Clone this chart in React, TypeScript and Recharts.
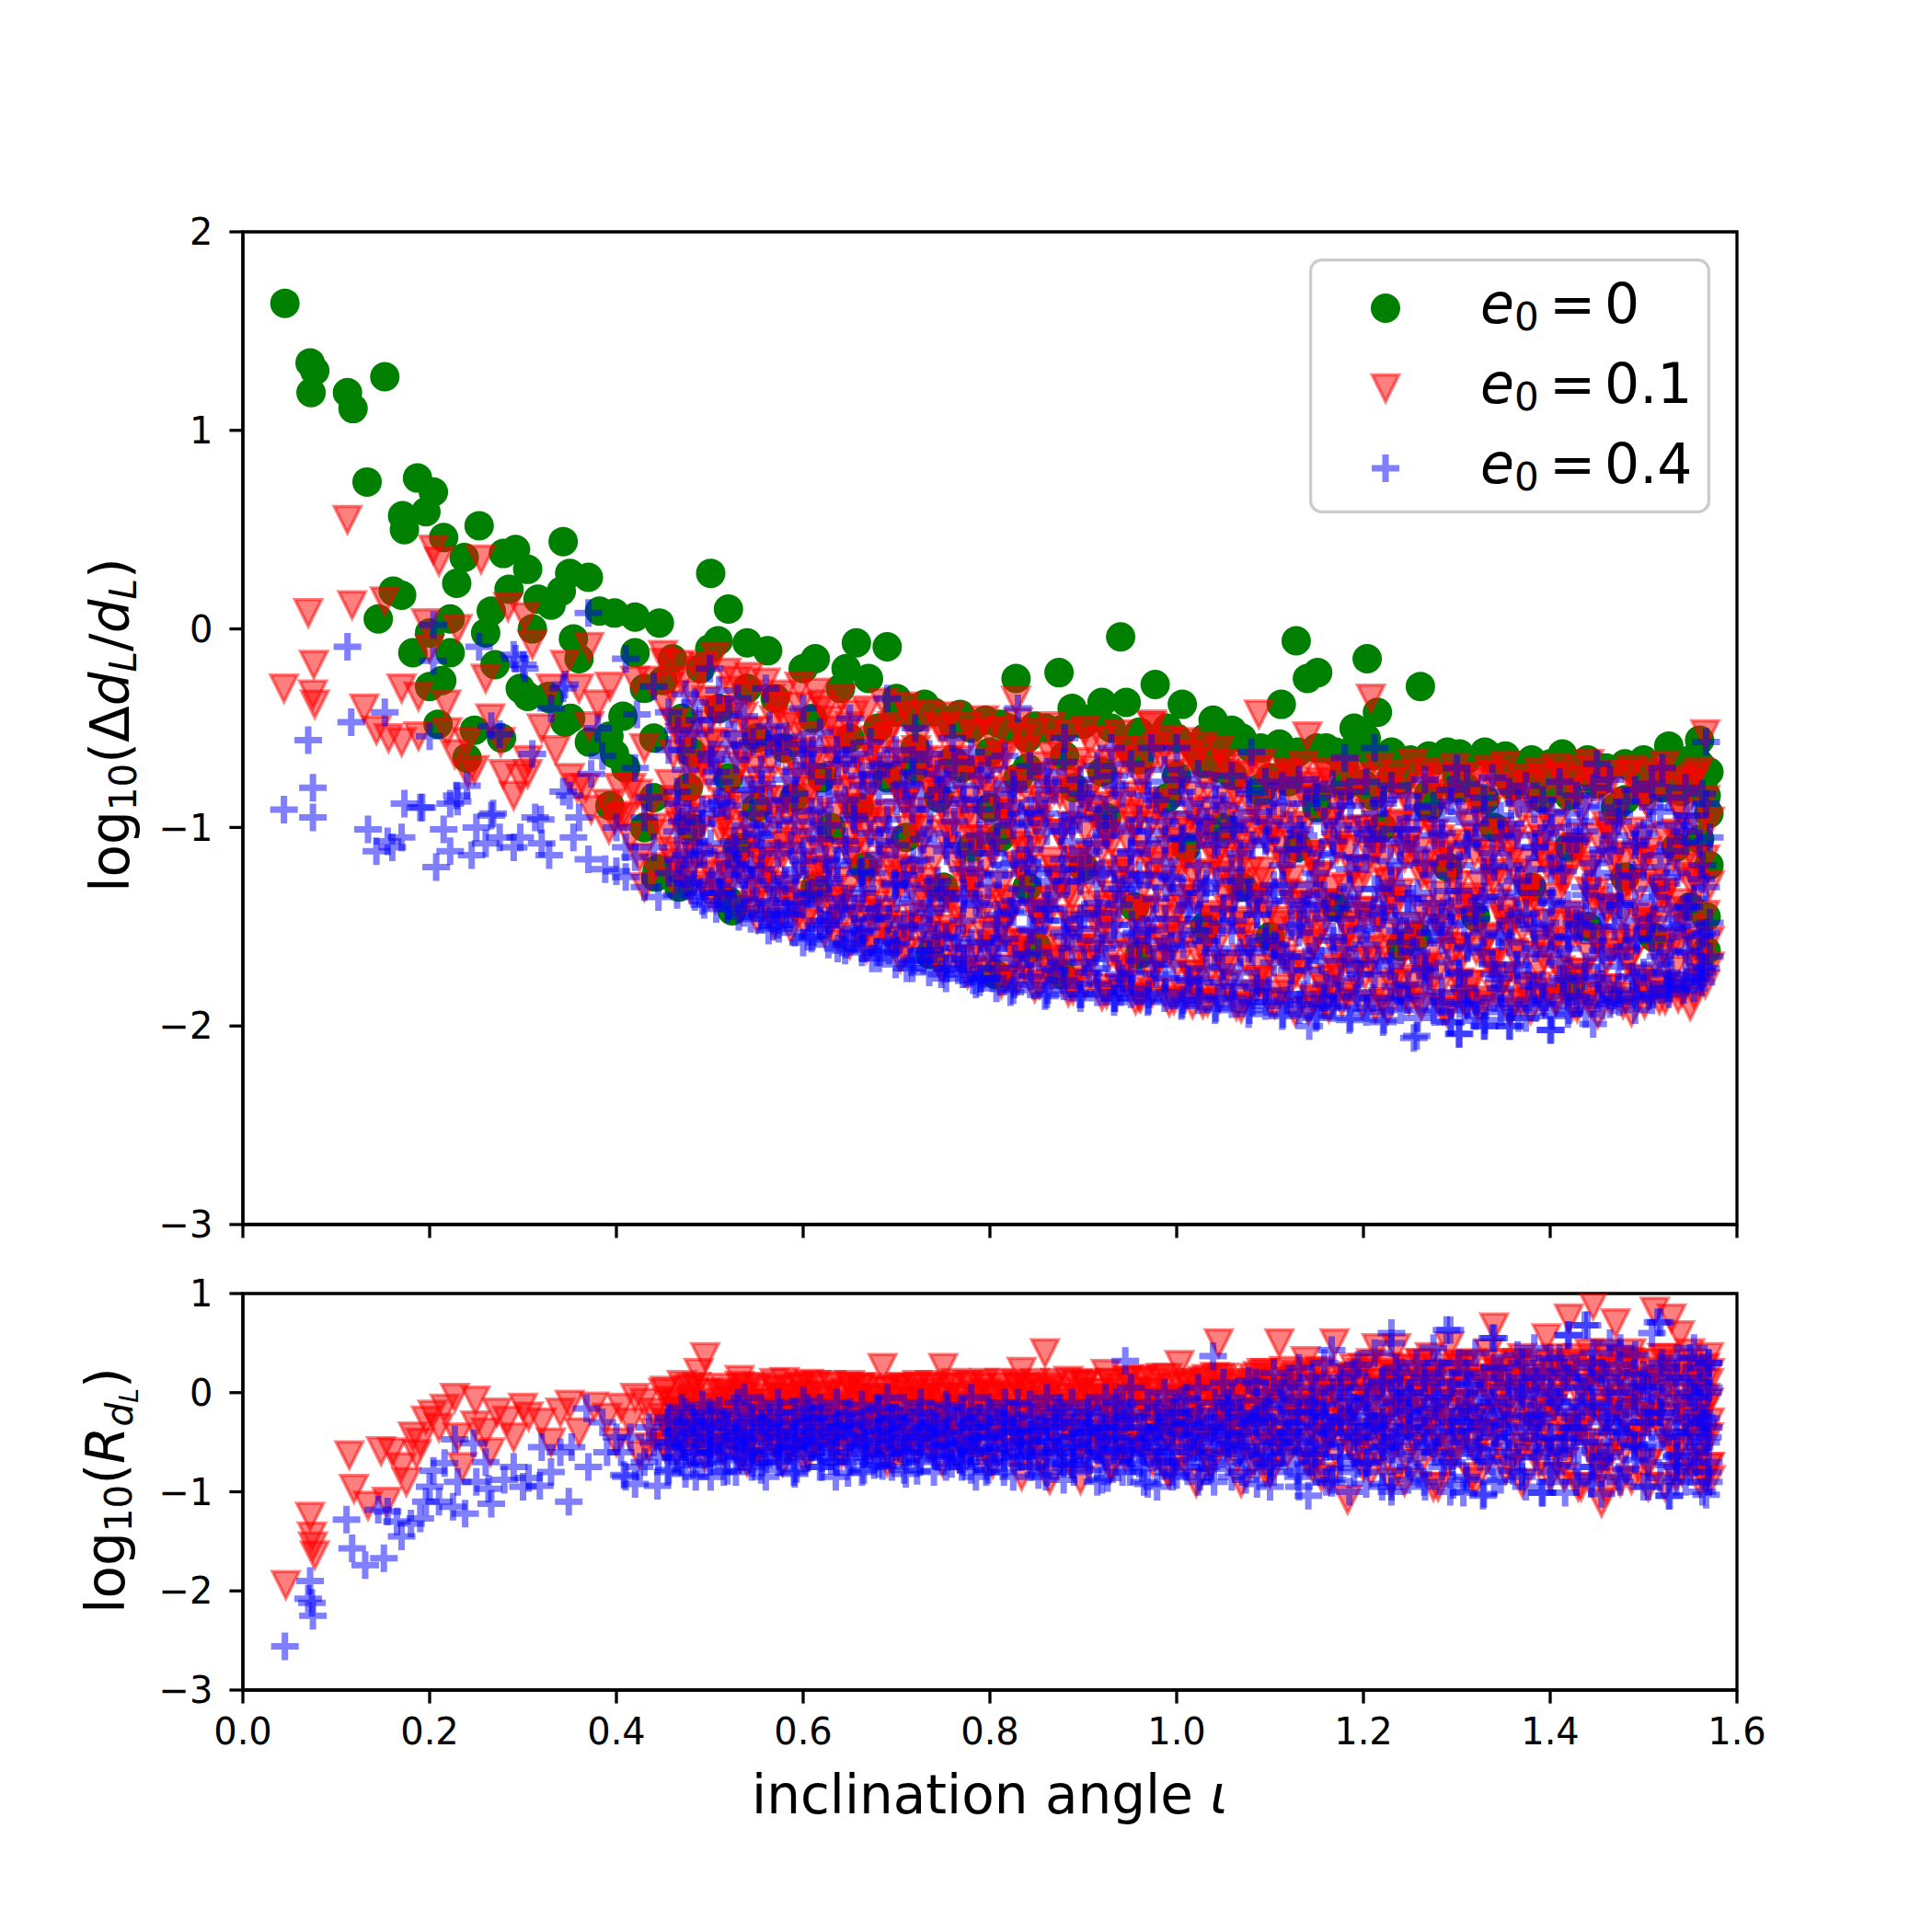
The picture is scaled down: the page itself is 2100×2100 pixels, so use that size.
import React from 'react';
import { ScatterChart, Scatter, XAxis, YAxis, ReferenceArea, Legend } from 'recharts';

// each row: [inclination, one or more log10 values read at that inclination]
type Row = number[];

const xTicks = [0, 0.2, 0.4, 0.6, 0.8, 1.0, 1.2, 1.4, 1.6];
const topYTicks = [-3, -2, -1, 0, 1, 2];
const bottomYTicks = [-3, -2, -1, 0, 1];
const seriesNames = ['e0 = 0', 'e0 = 0.1', 'e0 = 0.4'];
const legendValues = ['0', '0.1', '0.4'];

// upper panel, e0 = 0
const topCircles: Row[] = [
  [0.045, 1.64], [0.072, 1.34], [0.077, 1.3], [0.073, 1.19], [0.112, 1.19], [0.118, 1.11], [0.152, 1.27],
  [0.133, 0.74], [0.187, 0.76], [0.204, 0.69], [0.171, 0.57], [0.173, 0.5], [0.196, 0.59], [0.215, 0.46],
  [0.253, 0.52], [0.237, 0.36], [0.229, 0.23], [0.266, 0.09], [0.279, 0.38], [0.292, 0.4], [0.305, 0.3],
  [0.343, 0.44], [0.35, 0.28], [0.37, 0.26], [0.341, 0.19], [0.316, 0.15], [0.161, 0.19], [0.145, 0.05],
  [0.17, 0.17], [0.222, 0.05], [0.2, -0.02], [0.182, -0.12], [0.222, -0.12], [0.213, -0.26], [0.2, -0.29],
  [0.27, -0.18], [0.297, -0.3], [0.327, -0.34], [0.354, -0.05], [0.382, 0.09], [0.398, 0.08], [0.42, 0.06],
  [0.446, 0.03], [0.345, -0.47], [0.407, -0.44], [0.398, -0.63], [0.371, -0.57], [0.45, -0.26], [0.248, -0.51],
  [0.24, -0.65], [0.209, -0.48], [0.393, -0.89], [0.477, -0.8], [0.392, -0.54], [0.444, -1.21], [0.467, -1.3],
  [0.351, -0.45], [0.277, -0.55], [0.305, -0.34], [0.328, -0.35], [0.285, 0.2], [0.31, 0.0], [0.36, -0.15],
  [0.42, -0.12], [0.43, -0.3, -1.0], [0.41, -0.7], [0.44, -0.55, -0.85], [0.26, -0.02], [0.33, 0.12],
  [0.46, -0.15], [0.47, -0.45], [0.48, -0.62, -1.0], [0.49, -0.2], [0.5, -0.1], [0.501, 0.28], [0.52, 0.1, -0.75, -1.37],
  [0.509, -0.06], [0.51, -0.4], [0.53, -1.1], [0.524, -1.42], [0.54, -0.07, -0.3], [0.55, -0.55, -0.9], [0.442, -1.25],
  [0.562, -0.11], [0.57, -0.35], [0.58, -0.6], [0.59, -0.85], [0.6, -0.2], [0.61, -0.45], [0.613, -0.15, -1.3],
  [0.62, -0.75], [0.63, -1.0], [0.64, -0.3], [0.646, -0.2], [0.65, -0.55], [0.657, -0.07], [0.66, -0.9], [0.665, -1.2],
  [0.67, -0.25], [0.68, -0.5], [0.69, -0.09, -0.75], [0.7, -0.35, -0.42], [0.71, -1.05], [0.715, -0.4], [0.72, -0.45, -0.6, -0.7],
  [0.73, -0.38], [0.736, -1.64], [0.74, -0.42], [0.745, -0.85], [0.75, -1.3], [0.76, -0.48, -0.66],
  [0.768, -0.43], [0.77, -0.7], [0.78, -0.5, -1.1], [0.795, -0.46], [0.8, -0.62, -0.9], [0.806, -1.74], [0.811, -0.48, -1.05],
  [0.82, -0.5], [0.828, -0.25], [0.83, -0.75], [0.84, -0.55, -0.7, -1.3], [0.848, -0.49], [0.85, -1.6], [0.86, -0.5],
  [0.874, -0.22], [0.877, -1.74], [0.88, -0.5, -0.64], [0.888, -0.4], [0.89, -0.8], [0.9, -0.48, -1.2], [0.91, -0.45],
  [0.92, -0.37, -0.72], [0.925, -0.95], [0.93, -0.5], [0.94, -0.04], [0.946, -0.37], [0.95, -0.6], [0.955, -1.4],
  [0.96, -0.52, -0.66, -1.64], [0.977, -0.28], [0.98, -0.55], [0.99, -0.5, -0.85], [1.0, -0.55, -0.74], [1.006, -0.38], [1.01, -1.1],
  [1.02, -0.6], [1.03, -0.55, -0.68, -1.5], [1.039, -0.46], [1.045, -0.7], [1.05, -0.58, -1.0], [1.07, -0.55],
  [1.059, -0.51], [1.06, -0.74], [1.07, -1.3], [1.08, -0.6], [1.09, -0.6, -0.8, -0.82], [1.1, -0.75, -1.55], [1.11, -0.58], [1.112, -0.38],
  [1.12, -0.65, -0.77], [1.128, -0.06], [1.13, -0.62, -1.1], [1.14, -0.25], [1.151, -0.22], [1.15, -0.6, -0.85, -0.9],
  [1.16, -0.6], [1.17, -0.62, -1.4], [1.18, -0.7, -0.79], [1.19, -0.5, -0.6], [1.2, -0.78], [1.203, -0.55], [1.204, -0.15],
  [1.21, -0.64, -0.84], [1.215, -0.42], [1.22, -1.0], [1.23, -0.62, -0.75], [1.24, -0.76, -1.6], [1.25, -0.66, -0.68],
  [1.257, -1.55], [1.261, -0.29], [1.27, -0.64, -0.83, -0.9], [1.28, -0.66], [1.29, -0.62, -1.2], [1.3, -0.74, -0.8], [1.303, -0.63],
  [1.31, -0.66, -0.8], [1.32, -1.45], [1.33, -0.62, -0.86], [1.34, -0.65, -1.0], [1.352, -0.64], [1.355, -0.75], [1.36, -0.68, -0.79],
  [1.376, -0.7], [1.38, -0.66, -1.3], [1.39, -0.73, -0.85], [1.4, -0.68, -0.78], [1.413, -0.63], [1.42, -0.68, -0.84, -1.1],
  [1.422, -1.8], [1.43, -0.72], [1.44, -0.66, -1.5], [1.45, -0.78], [1.455, -0.7], [1.46, -0.7], [1.48, -0.68, -0.86],
  [1.47, -0.9], [1.48, -1.25], [1.488, -0.7], [1.5, -0.66, -0.72, -0.82], [1.51, -0.74, -1.55], [1.52, -0.8], [1.527, -0.59],
  [1.53, -0.7], [1.535, -1.1], [1.54, -0.82], [1.545, -0.75], [1.55, -0.66, -1.4], [1.56, -0.56, -0.68, -1.06],
  [1.565, -0.75], [1.567, -0.84, -1.45, -1.62], [1.57, -0.72, -0.93, -1.19],
];

// upper panel, e0 = 0.1
const topTriangles: Row[] = [
  [0.112, 0.55], [0.07, 0.08], [0.044, -0.3], [0.076, -0.18], [0.075, -0.33], [0.077, -0.38], [0.117, 0.12],
  [0.152, 0.14], [0.204, 0.4], [0.21, 0.34], [0.255, 0.35], [0.13, -0.4], [0.143, -0.51], [0.156, -0.55],
  [0.17, -0.57], [0.17, -0.3], [0.188, -0.34], [0.196, 0.03], [0.218, -0.38], [0.227, -0.63], [0.24, -0.57],
  [0.248, -0.71], [0.279, -0.73], [0.297, -0.75], [0.305, -0.66], [0.276, -0.57], [0.284, 0.11], [0.302, 0.06],
  [0.345, -0.18], [0.371, -0.09], [0.393, -0.29], [0.38, -0.38], [0.371, -0.49], [0.35, -0.75], [0.367, -0.8],
  [0.42, -0.26], [0.437, -0.26], [0.45, -0.13], [0.468, -0.18], [0.416, -0.8], [0.398, -0.96], [0.188, -0.54],
  [0.219, -0.52], [0.241, -0.73], [0.29, -0.84], [0.305, -0.73], [0.335, -0.61], [0.358, -0.8], [0.373, -0.91],
  [0.39, -0.88], [0.403, -0.8], [0.41, -0.94], [0.423, -0.83], [0.392, -1.01], [0.33, -0.3], [0.31, -0.08],
  [0.26, -0.25], [0.23, 0.0], [0.2, -0.1], [0.265, -0.45], [0.32, -0.5], [0.36, -0.3], [0.43, -0.6], [0.44, -1.0],
  [0.405, -0.95], [0.415, -1.05], [0.425, -1.15], [0.435, -0.9], [0.44, -1.2], [0.43, -1.3],
  [0.824, -1.77], [0.828, -0.36], [0.96, -1.85], [0.973, -0.48], [1.017, -1.89], [1.088, -0.43], [1.14, -0.54],
  [1.158, -1.89], [1.31, -1.89],
  [0.452, -0.17, -0.38, -1.03], [0.461, -0.63, -0.86, -1.27], [0.47, -0.26, -1.14, -1.22], [0.479, -0.52, -0.71, -1.31],
  [0.488, -0.21, -0.91, -1.02], [0.497, -0.36, -0.48, -1.19], [0.506, -0.14, -0.57, -0.66, -1.36], [0.515, -0.87, -0.97, -1.16],
  [0.524, -0.31, -0.42, -1.07, -1.26], [0.533, -0.69, -0.89, -1.41], [0.542, -0.24, -0.33, -0.99, -1.21],
  [0.551, -0.51, -0.81, -1.33, -1.46], [0.56, -0.27, -0.76, -0.96, -1.13], [0.569, -0.46, -0.56, -1.29, -1.49],
  [0.578, -0.33, -0.86, -1.04, -1.14], [0.587, -0.63, -0.77, -1.38, -1.51], [0.596, -0.29, -0.39, -0.97, -1.19],
  [0.605, -0.54, -0.99, -1.11, -1.44], [0.614, -0.32, -0.67, -0.76, -1.29], [0.623, -0.41, -1.04, -1.23, -1.53],
  [0.632, -0.56, -0.61, -0.94, -1.41], [0.641, -0.35, -0.82, -1.36, -1.47], [0.65, -0.49, -0.71, -1.04, -1.14, -1.59],
  [0.659, -0.64, -0.91, -1.46], [0.668, -0.41, -0.84, -0.99, -1.23, -1.61], [0.677, -0.56, -0.66, -1.19, -1.39],
  [0.686, -0.37, -0.93, -1.07, -1.51], [0.695, -0.49, -0.74, -1.34, -1.57], [0.704, -0.63, -0.67, -1.13, -1.29, -1.66],
  [0.713, -0.44, -0.84, -1.01, -1.51], [0.722, -0.56, -0.96, -1.22, -1.36], [0.731, -0.43, -0.76, -1.27, -1.63],
  [0.74, -0.66, -0.71, -1.16, -1.46], [0.749, -0.51, -0.89, -1.03, -1.54, -1.71], [0.758, -0.44, -0.99, -1.33, -1.37],
  [0.767, -0.66, -0.77, -1.11, -1.66], [0.776, -0.49, -0.93, -1.24, -1.47, -1.74], [0.785, -0.53, -0.71, -1.06, -1.59],
  [0.794, -0.46, -0.81, -1.36, -1.41, -1.73], [0.803, -0.67, -0.99, -1.13, -1.61], [0.812, -0.51, -0.64, -1.29, -1.51, -1.79],
  [0.821, -0.76, -0.93, -1.44, -1.58], [0.83, -0.47, -1.03, -1.19, -1.64, -1.77], [0.839, -0.61, -0.81, -1.26, -1.69],
  [0.848, -0.52, -0.96, -1.11, -1.43, -1.81], [0.857, -0.74, -0.89, -1.49, -1.61], [0.866, -0.49, -0.64, -1.17, -1.36, -1.75],
  [0.875, -0.83, -1.03, -1.57, -1.67], [0.884, -0.53, -0.77, -1.33, -1.46, -1.83], [0.893, -0.67, -1.16, -1.21, -1.73],
  [0.902, -0.51, -0.86, -1.01, -1.57, -1.79], [0.911, -0.71, -0.94, -1.39, -1.61], [0.92, -0.56, -1.11, -1.24, -1.49, -1.85],
  [0.929, -0.79, -0.89, -1.53, -1.64], [0.938, -0.53, -0.67, -1.23, -1.39, -1.81], [0.947, -0.66, -1.06, -1.21, -1.73],
  [0.956, -0.84, -0.99, -1.43, -1.61, -1.87], [0.965, -0.61, -0.74, -1.29, -1.57], [0.974, -0.49, -0.96, -1.19, -1.73, -1.83],
  [0.983, -0.64, -0.87, -1.43, -1.56], [0.992, -0.56, -1.11, -1.26, -1.63, -1.88], [1.001, -0.73, -0.82, -1.41, -1.69],
  [1.01, -0.57, -0.99, -1.16, -1.54, -1.85], [1.019, -0.67, -0.84, -1.36, -1.77], [1.028, -0.59, -1.03, -1.24, -1.61, -1.89],
  [1.037, -0.71, -0.91, -1.44, -1.71], [1.046, -0.61, -1.11, -1.24, -1.56, -1.86], [1.055, -0.7, -0.86, -1.41, -1.79],
  [1.064, -0.84, -1.17, -1.28, -1.9], [1.073, -0.73, -0.98, -1.49, -1.66], [1.082, -0.91, -1.03, -1.37, -1.84],
  [1.091, -0.68, -1.22, -1.36, -1.71], [1.1, -0.79, -1.01, -1.64, -1.88], [1.109, -0.75, -0.95, -1.47, -1.62],
  [1.118, -0.72, -1.19, -1.33, -1.81], [1.127, -0.86, -1.09, -1.52, -1.93], [1.136, -0.69, -0.83, -1.34, -1.69],
  [1.145, -0.81, -1.16, -1.59, -1.86], [1.154, -0.77, -1.24, -1.45, -1.77], [1.163, -0.74, -0.97, -1.38, -1.91],
  [1.172, -0.88, -1.11, -1.63, -1.73], [1.181, -0.71, -1.3, -1.49, -1.83], [1.19, -0.83, -1.01, -1.56, -1.74],
  [1.199, -0.76, -1.21, -1.42, -1.89], [1.208, -0.35, -0.93, -1.14, -1.67], [1.217, -0.7, -1.05, -1.47, -1.8],
  [1.226, -0.87, -1.28, -1.53, -1.92], [1.235, -0.73, -0.99, -1.39, -1.7], [1.244, -0.82, -1.15, -1.61, -1.85],
  [1.253, -0.68, -1.03, -1.5, -1.76], [1.262, -0.8, -1.24, -1.41, -1.9], [1.271, -0.76, -0.96, -1.64, -1.7],
  [1.28, -0.74, -1.18, -1.34, -1.82], [1.289, -0.85, -1.1, -1.57, -1.93], [1.298, -0.7, -1.22, -1.43, -1.72],
  [1.307, -0.89, -1.08, -1.6, -1.86], [1.316, -0.77, -1.35, -1.47, -1.79], [1.325, -0.74, -0.94, -1.29, -1.91],
  [1.334, -0.71, -1.16, -1.55, -1.68], [1.343, -0.82, -1.02, -1.38, -1.84], [1.352, -0.69, -1.28, -1.42, -1.75],
  [1.361, -0.8, -1.06, -1.63, -1.89], [1.37, -0.75, -0.92, -1.51, -1.8], [1.379, -0.86, -1.23, -1.32, -1.92],
  [1.388, -0.72, -1.09, -1.56, -1.71], [1.397, -0.75, -1.19, -1.48, -1.83], [1.406, -0.7, -0.98, -1.35, -1.88],
  [1.415, -0.84, -1.26, -1.62, -1.77], [1.424, -0.76, -1.1, -1.44, -1.9], [1.433, -0.71, -0.91, -1.5, -1.73],
  [1.442, -0.68, -1.21, -1.32, -1.85], [1.451, -0.8, -1.05, -1.57, -1.94], [1.46, -0.77, -0.99, -1.41, -1.66],
  [1.469, -0.73, -1.14, -1.59, -1.81], [1.478, -0.87, -1.31, -1.43, -1.89], [1.487, -0.71, -1.02, -1.56, -1.93],
  [1.496, -0.83, -1.17, -1.3, -1.76], [1.505, -0.74, -0.89, -1.45, -1.84], [1.514, -0.72, -1.28, -1.49, -1.79],
  [1.523, -0.69, -1.04, -1.33, -1.87], [1.532, -0.81, -1.15, -1.58, -1.72], [1.541, -0.76, -0.93, -1.38, -1.83],
  [1.55, -0.78, -1.27, -1.51, -1.9], [1.559, -0.72, -1.0, -1.62, -1.78], [1.566, -0.53, -0.86, -1.16, -1.44, -1.79],
  [1.571, -0.97, -1.29, -1.57, -1.7],
  [0.457, -0.29, -0.78, -1.12], [0.475, -0.58, -0.95, -1.24], [0.493, -0.19, -0.68, -1.29], [0.511, -0.41, -1.01, -1.33],
  [0.529, -0.26, -0.58, -1.19], [0.547, -0.71, -1.06, -1.39], [0.565, -0.35, -0.66, -1.22, -1.43], [0.583, -0.47, -0.93, -1.31],
  [0.601, -0.62, -0.85, -1.48], [0.619, -0.38, -1.13, -1.37], [0.637, -0.51, -0.74, -1.27, -1.55], [0.655, -0.43, -0.97, -1.41],
  [0.673, -0.61, -0.79, -1.33, -1.58], [0.691, -0.54, -1.16, -1.46], [0.709, -0.39, -0.88, -1.24, -1.62], [0.727, -0.67, -1.07, -1.52],
  [0.745, -0.49, -0.81, -1.39, -1.68], [0.763, -0.59, -1.19, -1.56], [0.781, -0.71, -0.96, -1.31, -1.72], [0.799, -0.52, -1.09, -1.63],
  [0.817, -0.63, -0.87, -1.46, -1.76], [0.835, -0.55, -1.21, -1.59], [0.853, -0.69, -1.01, -1.37, -1.79], [0.871, -0.58, -1.26, -1.68],
  [0.889, -0.73, -0.91, -1.49, -1.82], [0.907, -0.57, -1.14, -1.64], [0.925, -0.68, -1.02, -1.41, -1.84], [0.943, -0.61, -1.29, -1.71],
  [0.961, -0.76, -0.93, -1.53, -1.86], [0.979, -0.59, -1.17, -1.66], [0.997, -0.69, -1.07, -1.46, -1.87], [1.015, -0.63, -1.33, -1.74],
  [1.033, -0.79, -0.97, -1.56, -1.88], [1.051, -0.68, -1.21, -1.69], [1.069, -0.74, -1.09, -1.47, -1.91], [1.087, -0.71, -1.35, -1.77],
  [1.105, -0.83, -1.04, -1.58, -1.89], [1.123, -0.73, -1.26, -1.71], [1.141, -0.79, -1.13, -1.49, -1.92], [1.159, -0.72, -1.38, -1.81],
  [1.177, -0.86, -1.02, -1.61, -1.88], [1.195, -0.74, -1.29, -1.68], [1.213, -0.81, -1.12, -1.46, -1.91], [1.231, -0.77, -1.36, -1.79],
  [1.249, -0.89, -1.07, -1.59, -1.87], [1.267, -0.72, -1.23, -1.71], [1.285, -0.83, -1.14, -1.51, -1.92], [1.303, -0.75, -1.39, -1.78],
  [1.321, -0.87, -1.05, -1.62, -1.89], [1.339, -0.73, -1.27, -1.69], [1.357, -0.84, -1.17, -1.48, -1.93], [1.375, -0.78, -1.34, -1.82],
  [1.393, -0.91, -1.06, -1.59, -1.88], [1.411, -0.74, -1.24, -1.72], [1.429, -0.82, -1.13, -1.52, -1.91], [1.447, -0.76, -1.37, -1.79],
  [1.465, -0.88, -1.04, -1.63, -1.87], [1.483, -0.73, -1.28, -1.68], [1.501, -0.85, -1.16, -1.47, -1.89], [1.519, -0.77, -1.33, -1.81],
  [1.537, -0.9, -1.08, -1.58, -1.86], [1.555, -0.74, -1.25, -1.7],
  [0.462, -0.47, -0.92, -1.18], [0.481, -0.33, -0.83, -1.06], [0.499, -0.58, -0.74, -1.34], [0.518, -0.22, -0.91, -1.23],
  [0.536, -0.44, -0.64, -1.11], [0.555, -0.61, -1.17, -1.27], [0.573, -0.39, -0.92, -1.37], [0.592, -0.49, -1.07, -1.42],
  [0.61, -0.66, -0.81, -1.24], [0.629, -0.46, -1.12, -1.49], [0.647, -0.57, -0.9, -1.31], [0.666, -0.72, -1.08, -1.53],
  [0.684, -0.51, -0.97, -1.43], [0.703, -0.79, -1.21, -1.57], [0.721, -0.61, -0.92, -1.45], [0.74, -0.83, -1.31, -1.59],
  [0.758, -0.69, -1.04, -1.51], [0.777, -0.86, -1.27, -1.67], [0.795, -0.72, -1.17, -1.54], [0.814, -0.92, -1.38, -1.71],
  [0.832, -0.77, -1.09, -1.62], [0.851, -0.97, -1.44, -1.73], [0.869, -0.81, -1.21, -1.66], [0.888, -0.99, -1.35, -1.78],
  [0.906, -0.83, -1.26, -1.69], [0.925, -1.04, -1.47, -1.81], [0.943, -0.87, -1.18, -1.72], [0.962, -1.07, -1.41, -1.79],
  [0.98, -0.89, -1.29, -1.68], [0.999, -1.02, -1.52, -1.83], [1.017, -0.92, -1.23, -1.74], [1.036, -1.09, -1.46, -1.82],
  [1.054, -0.94, -1.36, -1.71], [1.073, -1.13, -1.55, -1.86], [1.091, -0.96, -1.27, -1.77], [1.11, -1.08, -1.49, -1.84],
  [1.128, -0.99, -1.39, -1.73], [1.147, -1.14, -1.58, -1.87], [1.165, -0.97, -1.31, -1.76], [1.184, -1.11, -1.52, -1.85],
  [1.202, -1.01, -1.42, -1.74], [1.221, -1.16, -1.61, -1.88], [1.239, -0.98, -1.33, -1.78], [1.258, -1.12, -1.54, -1.86],
  [1.276, -1.03, -1.44, -1.75], [1.295, -1.17, -1.63, -1.89], [1.313, -0.99, -1.37, -1.79], [1.332, -1.13, -1.56, -1.87],
  [1.35, -1.04, -1.46, -1.76], [1.369, -1.18, -1.64, -1.88], [1.387, -1.01, -1.39, -1.8], [1.406, -1.14, -1.57, -1.86],
  [1.424, -1.05, -1.47, -1.77], [1.443, -1.19, -1.65, -1.89], [1.461, -1.02, -1.41, -1.81], [1.48, -1.15, -1.58, -1.85],
  [1.498, -1.06, -1.48, -1.78], [1.517, -1.2, -1.66, -1.87], [1.535, -1.03, -1.42, -1.8], [1.554, -1.16, -1.59, -1.84],
  [0.468, -0.55, -0.99], [0.486, -0.72, -1.15], [0.505, -0.41, -1.24], [0.523, -0.78, -1.02], [0.542, -0.52, -1.31],
  [0.56, -0.86, -1.18], [0.579, -0.61, -1.09], [0.597, -0.74, -1.34], [0.616, -0.92, -1.21], [0.634, -0.66, -1.38],
  [0.653, -0.81, -1.12], [0.671, -0.94, -1.44], [0.69, -0.71, -1.26], [0.708, -0.87, -1.49], [0.727, -1.01, -1.33],
  [0.745, -0.76, -1.55], [0.764, -0.91, -1.41], [0.782, -1.06, -1.28], [0.801, -0.82, -1.52], [0.819, -0.98, -1.36],
  [0.838, -1.12, -1.58], [0.856, -0.86, -1.43], [0.875, -1.03, -1.29], [0.893, -1.17, -1.61], [0.912, -0.91, -1.46],
  [0.93, -1.08, -1.34], [0.949, -0.95, -1.63], [0.967, -1.14, -1.42], [0.986, -0.99, -1.57], [1.004, -1.19, -1.36],
  [1.023, -1.02, -1.64], [1.041, -1.16, -1.47], [1.06, -1.05, -1.31], [1.078, -1.22, -1.59], [1.097, -1.07, -1.44],
  [1.115, -1.18, -1.66], [1.134, -1.01, -1.39], [1.152, -1.25, -1.53], [1.171, -1.09, -1.71], [1.189, -1.21, -1.45],
  [1.208, -1.04, -1.62], [1.226, -1.27, -1.37], [1.245, -1.11, -1.55], [1.263, -1.19, -1.72], [1.282, -1.06, -1.46],
  [1.3, -1.29, -1.6], [1.319, -1.13, -1.41], [1.337, -1.23, -1.68], [1.356, -1.08, -1.52], [1.374, -1.31, -1.43],
  [1.393, -1.15, -1.65], [1.411, -1.26, -1.49], [1.43, -1.1, -1.73], [1.448, -1.33, -1.56], [1.467, -1.17, -1.4],
  [1.485, -1.28, -1.67], [1.504, -1.12, -1.51], [1.522, -1.35, -1.61], [1.541, -1.2, -1.45], [1.559, -1.3, -1.69],
];

// upper panel, e0 = 0.4
const topPluses: Row[] = [
  [0.112, -0.09], [0.07, -0.56], [0.075, -0.8], [0.044, -0.91], [0.075, -0.95], [0.116, -0.47], [0.152, -0.42],
  [0.204, 0.02], [0.204, -0.16], [0.2, -0.54], [0.253, -0.09], [0.292, -0.15], [0.3, -0.18], [0.345, -0.28],
  [0.37, 0.08], [0.266, -0.49], [0.275, -0.53], [0.31, -0.63], [0.35, -0.84], [0.319, -0.96], [0.266, -0.94],
  [0.173, -0.88], [0.19, -0.9], [0.222, -0.88], [0.229, -0.84], [0.24, -0.79], [0.134, -1.01], [0.143, -1.12],
  [0.155, -1.07], [0.17, -1.05], [0.192, -0.9], [0.207, -1.2], [0.222, -1.12], [0.215, -1.01], [0.23, -0.87],
  [0.245, -1.14], [0.268, -0.93], [0.275, -1.05], [0.29, -1.1], [0.297, -1.05], [0.313, -0.95], [0.328, -1.14],
  [0.354, -1.05], [0.37, -1.16], [0.388, -1.21], [0.4, -1.22], [0.343, -0.82], [0.373, -0.73], [0.385, -0.64],
  [0.29, -0.13], [0.302, -0.2], [0.343, -0.3], [0.422, -0.43], [0.44, -0.29], [0.16, -1.1], [0.25, -1.0],
  [0.26, -1.08], [0.32, -1.08], [0.36, -0.95], [0.41, -1.1], [0.43, -0.95], [0.42, -0.7], [0.33, -0.4],
  [0.38, -0.5], [0.41, -0.15],
  [0.4, -1.0], [0.41, -1.25], [0.42, -1.15], [0.43, -1.3], [0.44, -1.1], [0.445, -1.35], [0.435, -0.85],
  [0.5, -0.2], [0.53, -0.35], [0.56, -0.3], [0.6, -0.4], [0.65, -0.45], [0.69, -0.35], [0.72, -0.5], [0.76, -0.55],
  [0.83, -0.4], [0.88, -0.55], [0.93, -0.6], [1.0, -0.6], [1.08, -0.62], [1.18, -0.65], [1.3, -0.7], [1.45, -0.68], [1.52, -0.7],
  [0.571, -1.42], [0.664, -1.61], [0.782, -1.77], [0.94, -1.83], [0.973, -0.6], [1.142, -2.0], [1.254, -2.06],
  [1.303, -2.04], [1.33, -2.0], [1.357, -2.0], [1.4, -2.02],
  [0.456, -0.42, -0.61, -1.23], [0.465, -0.82, -1.02, -1.34], [0.474, -0.33, -0.71, -1.14], [0.483, -0.53, -1.19, -1.29],
  [0.492, -0.91, -0.98, -1.37], [0.501, -0.46, -0.63, -1.08], [0.51, -0.31, -0.77, -1.24, -1.33], [0.519, -0.58, -0.89, -1.41],
  [0.528, -0.66, -1.11, -1.18], [0.537, -0.44, -0.81, -1.36, -1.43], [0.546, -0.57, -0.93, -1.27], [0.555, -0.71, -1.04, -1.21, -1.46],
  [0.564, -0.49, -0.87, -1.38], [0.573, -0.62, -1.13, -1.31, -1.49], [0.582, -0.54, -0.76, -1.42], [0.591, -0.83, -0.97, -1.24, -1.53],
  [0.6, -0.58, -1.17, -1.39], [0.609, -0.69, -0.92, -1.33, -1.56], [0.618, -0.52, -1.06, -1.47], [0.627, -0.77, -0.99, -1.28, -1.59],
  [0.636, -0.61, -1.19, -1.44], [0.645, -0.86, -1.07, -1.36, -1.62], [0.654, -0.63, -0.94, -1.51], [0.663, -0.74, -1.22, -1.33, -1.63],
  [0.672, -0.57, -1.03, -1.46], [0.681, -0.82, -1.14, -1.41, -1.66], [0.69, -0.68, -0.96, -1.57], [0.699, -0.61, -1.09, -1.29, -1.69],
  [0.708, -0.79, -1.24, -1.49], [0.717, -0.66, -0.91, -1.38, -1.71], [0.726, -0.84, -1.16, -1.62], [0.735, -0.63, -1.03, -1.43, -1.73],
  [0.744, -0.73, -1.27, -1.54], [0.753, -0.88, -1.09, -1.36, -1.76], [0.762, -0.67, -0.97, -1.61], [0.771, -0.79, -1.21, -1.47, -1.74],
  [0.78, -0.62, -1.13, -1.58], [0.789, -0.91, -1.04, -1.39, -1.78], [0.798, -0.71, -1.29, -1.66], [0.807, -0.83, -1.07, -1.49, -1.81],
  [0.816, -0.64, -1.19, -1.56], [0.825, -0.78, -0.99, -1.43, -1.82], [0.834, -0.93, -1.31, -1.69], [0.843, -0.69, -1.11, -1.51, -1.79],
  [0.852, -0.86, -1.23, -1.63], [0.861, -0.72, -1.02, -1.41, -1.84], [0.87, -0.81, -1.34, -1.72], [0.879, -0.67, -1.16, -1.53, -1.8],
  [0.888, -0.94, -1.07, -1.61], [0.897, -0.76, -1.27, -1.46, -1.86], [0.906, -0.85, -1.12, -1.73], [0.915, -0.69, -1.38, -1.57, -1.83],
  [0.924, -0.91, -1.04, -1.66], [0.933, -0.74, -1.21, -1.49, -1.88], [0.942, -0.83, -1.31, -1.76], [0.951, -0.68, -1.13, -1.59, -1.84],
  [0.96, -0.96, -1.24, -1.67], [0.969, -0.77, -1.08, -1.52, -1.88], [0.978, -0.86, -1.36, -1.74], [0.987, -0.71, -1.17, -1.61, -1.86],
  [0.996, -0.93, -1.26, -1.69], [1.005, -0.76, -1.06, -1.54, -1.9], [1.014, -0.88, -1.39, -1.77], [1.023, -0.73, -1.19, -1.46, -1.87],
  [1.032, -0.97, -1.28, -1.71], [1.041, -0.79, -1.09, -1.63, -1.92], [1.05, -0.89, -1.41, -1.78], [1.059, -0.74, -1.21, -1.52, -1.89],
  [1.068, -0.96, -1.13, -1.73], [1.077, -0.81, -1.33, -1.61, -1.94], [1.086, -0.92, -1.44, -1.81], [1.095, -0.77, -1.07, -1.57, -1.9],
  [1.104, -0.87, -1.29, -1.68], [1.113, -0.79, -1.19, -1.64, -1.95], [1.122, -0.99, -1.37, -1.84], [1.131, -0.76, -1.11, -1.53, -1.92],
  [1.14, -0.88, -1.41, -1.72], [1.149, -0.81, -1.23, -1.62, -1.96], [1.158, -0.97, -1.34, -1.86], [1.167, -0.78, -1.14, -1.55, -1.91],
  [1.176, -0.89, -1.46, -1.76], [1.185, -0.82, -1.21, -1.67, -1.97], [1.194, -1.01, -1.39, -1.83],
  [1.203, -0.77, -1.16, -1.59, -1.93], [1.212, -0.6, -0.93, -1.31, -1.74], [1.221, -0.88, -1.06, -1.44, -1.98],
  [1.23, -0.79, -1.28, -1.67], [1.239, -1.01, -1.19, -1.52, -1.86], [1.248, -0.84, -1.36, -1.79], [1.257, -0.95, -1.11, -1.63, -2.05],
  [1.266, -0.76, -1.47, -1.71], [1.275, -0.89, -1.24, -1.38, -1.92], [1.284, -1.03, -1.57, -1.83], [1.293, -0.81, -1.15, -1.49, -1.98],
  [1.302, -0.92, -1.32, -1.74, -2.04], [1.311, -0.78, -1.08, -1.61, -1.89], [1.32, -0.98, -1.41, -1.95], [1.329, -0.85, -1.22, -1.53, -2.0],
  [1.338, -0.75, -1.13, -1.69], [1.347, -0.94, -1.35, -1.81, -1.91], [1.356, -0.82, -1.19, -1.58, -2.0], [1.365, -1.04, -1.27, -1.72],
  [1.374, -0.79, -1.43, -1.64, -1.96], [1.383, -0.91, -1.1, -1.51], [1.392, -0.86, -1.33, -1.79, -1.88], [1.401, -1.0, -1.21, -1.55, -2.02],
  [1.41, -0.77, -1.15, -1.68], [1.419, -0.93, -1.39, -1.61, -1.94], [1.428, -0.84, -1.06, -1.48, -1.85], [1.437, -1.02, -1.3, -1.75],
  [1.446, -0.8, -1.18, -1.57, -1.99], [1.455, -0.9, -1.42, -1.66], [1.464, -0.76, -1.12, -1.35, -1.89], [1.473, -0.97, -1.25, -1.7, -1.82],
  [1.482, -0.87, -1.47, -1.6], [1.491, -0.81, -1.09, -1.38, -1.92], [1.5, -1.03, -1.2, -1.73], [1.509, -0.78, -1.31, -1.56, -1.87],
  [1.518, -0.92, -1.14, -1.65], [1.527, -0.85, -1.41, -1.79, -1.84], [1.536, -0.99, -1.23, -1.5], [1.545, -0.8, -1.07, -1.62, -1.76],
  [1.554, -0.94, -1.36, -1.81], [1.563, -0.83, -1.19, -1.54, -1.73], [1.567, -0.57, -0.88, -1.3], [1.571, -1.05, -1.48, -1.65],
  [0.466, -0.51, -0.88, -1.16], [0.484, -0.37, -1.07, -1.35], [0.502, -0.66, -0.93, -1.27], [0.52, -0.43, -1.14, -1.39],
  [0.538, -0.59, -0.99, -1.24], [0.556, -0.78, -1.09, -1.44], [0.574, -0.55, -0.96, -1.51], [0.592, -0.72, -1.21, -1.38],
  [0.61, -0.61, -1.02, -1.55], [0.628, -0.83, -1.26, -1.47], [0.646, -0.66, -1.11, -1.59], [0.664, -0.79, -1.31, -1.52],
  [0.682, -0.69, -1.07, -1.63], [0.7, -0.87, -1.36, -1.58], [0.718, -0.72, -1.17, -1.67], [0.736, -0.91, -1.41, -1.62],
  [0.754, -0.76, -1.12, -1.71], [0.772, -0.86, -1.33, -1.66], [0.79, -0.74, -1.23, -1.76], [0.808, -0.97, -1.44, -1.71],
  [0.826, -0.81, -1.18, -1.79], [0.844, -0.92, -1.38, -1.75], [0.862, -0.77, -1.27, -1.82], [0.88, -0.99, -1.47, -1.77],
  [0.898, -0.83, -1.21, -1.84], [0.916, -0.95, -1.43, -1.79], [0.934, -0.79, -1.31, -1.86], [0.952, -1.02, -1.49, -1.81],
  [0.97, -0.84, -1.24, -1.87], [0.988, -0.97, -1.46, -1.83], [1.006, -0.82, -1.33, -1.89], [1.024, -1.04, -1.52, -1.85],
  [1.042, -0.86, -1.27, -1.91], [1.06, -0.99, -1.47, -1.86], [1.078, -0.83, -1.36, -1.92], [1.096, -1.06, -1.55, -1.88],
  [1.114, -0.88, -1.29, -1.94], [1.132, -1.01, -1.49, -1.89], [1.15, -0.85, -1.38, -1.95], [1.168, -1.07, -1.57, -1.9],
  [1.186, -0.89, -1.31, -1.96], [1.204, -1.03, -1.51, -1.91], [1.222, -0.86, -1.4, -1.97], [1.24, -1.08, -1.58, -1.92],
  [1.258, -0.9, -1.33, -1.96], [1.276, -1.04, -1.53, -1.93], [1.294, -0.87, -1.42, -1.98], [1.312, -1.09, -1.6, -1.92],
  [1.33, -0.91, -1.35, -1.97], [1.348, -1.05, -1.55, -1.93], [1.366, -0.88, -1.44, -1.96], [1.384, -1.1, -1.61, -1.91],
  [1.402, -0.92, -1.37, -1.95], [1.42, -1.06, -1.56, -1.92], [1.438, -0.89, -1.45, -1.94], [1.456, -1.11, -1.62, -1.9],
  [1.474, -0.93, -1.39, -1.88], [1.492, -1.07, -1.57, -1.86], [1.51, -0.9, -1.46, -1.84], [1.528, -1.12, -1.63, -1.81],
  [1.546, -0.94, -1.4, -1.78], [1.56, -1.08, -1.55, -1.75],
  [0.47, -0.61, -0.97, -1.26], [0.489, -0.46, -1.13, -1.33], [0.507, -0.72, -0.88, -1.41], [0.526, -0.53, -1.07, -1.29],
  [0.544, -0.81, -1.19, -1.46], [0.563, -0.58, -0.99, -1.52], [0.581, -0.86, -1.27, -1.44], [0.6, -0.63, -1.12, -1.58],
  [0.618, -0.91, -1.36, -1.51], [0.637, -0.68, -1.17, -1.61], [0.655, -0.96, -1.41, -1.56], [0.674, -0.73, -1.23, -1.66],
  [0.692, -1.01, -1.46, -1.62], [0.711, -0.78, -1.29, -1.71], [0.729, -1.06, -1.51, -1.67], [0.748, -0.81, -1.33, -1.74],
  [0.766, -1.09, -1.56, -1.72], [0.785, -0.86, -1.38, -1.79], [0.803, -1.13, -1.61, -1.76], [0.822, -0.89, -1.42, -1.83],
  [0.84, -1.17, -1.64, -0.98], [0.859, -0.93, -1.47, -1.85], [0.877, -1.21, -1.68, -1.02], [0.896, -0.96, -1.51, -1.84],
  [0.914, -1.24, -1.71, -1.08], [0.933, -0.99, -1.54, -1.86], [0.951, -1.27, -1.73, -1.12], [0.97, -1.02, -1.57, -1.84],
  [0.988, -1.3, -1.76, -1.06], [1.007, -1.05, -1.59, -1.87], [1.025, -1.33, -1.78, -0.95], [1.044, -1.07, -1.61, -1.86],
  [1.062, -1.35, -1.8, -1.01], [1.081, -1.09, -1.63, -1.88], [1.099, -1.37, -1.82, -0.97], [1.118, -1.11, -1.65, -1.87],
  [1.136, -1.39, -1.84, -1.04], [1.155, -1.13, -1.67, -1.89], [1.173, -1.41, -1.85, -0.99], [1.192, -1.15, -1.69, -1.86],
  [1.21, -1.43, -1.86, -1.06], [1.229, -1.17, -1.7, -1.88], [1.247, -1.44, -1.87, -1.01], [1.266, -1.18, -1.72, -1.85],
  [1.284, -1.45, -1.88, -0.96], [1.303, -1.19, -1.73, -1.89], [1.321, -1.46, -1.88, -1.05], [1.34, -1.2, -1.74, -1.86],
  [1.358, -1.47, -1.89, -0.98], [1.377, -1.21, -1.75, -1.87], [1.395, -1.48, -1.89, -1.03], [1.414, -1.22, -1.76, -1.85],
  [1.432, -1.49, -1.88, -0.97], [1.451, -1.23, -1.76, -1.86], [1.469, -1.5, -1.87, -1.04], [1.488, -1.24, -1.75, -1.84],
  [1.506, -1.5, -1.85, -0.99], [1.525, -1.25, -1.73, -1.81], [1.543, -1.49, -1.82, -1.02], [1.562, -1.26, -1.7, -1.78],
  [0.476, -0.95, -1.28], [0.494, -1.12, -1.39], [0.513, -0.87, -1.33], [0.531, -1.21, -1.45], [0.55, -1.03, -1.37],
  [0.568, -1.29, -1.5], [0.587, -1.09, -1.44], [0.605, -1.34, -1.55], [0.624, -1.16, -1.49], [0.642, -1.4, -1.58],
  [0.661, -1.23, -1.53], [0.679, -1.45, -1.63], [0.698, -1.28, -1.59], [0.716, -1.5, -1.68], [0.735, -1.31, -1.64],
  [0.753, -1.55, -1.71], [0.772, -1.36, -1.69], [0.79, -1.58, -1.76],
  [0.809, -1.24, -1.58], [0.827, -1.37, -1.66], [0.846, -1.21, -1.52], [0.864, -1.41, -1.71], [0.883, -1.27, -1.55],
  [0.901, -1.44, -1.68], [0.92, -1.23, -1.61], [0.938, -1.39, -1.74], [0.957, -1.29, -1.53], [0.975, -1.46, -1.69],
  [0.994, -1.25, -1.6], [1.012, -1.42, -1.76], [1.031, -1.31, -1.57], [1.049, -1.48, -1.7], [1.068, -1.27, -1.63],
  [1.086, -1.44, -1.78], [1.105, -1.33, -1.59], [1.123, -1.5, -1.72], [1.142, -1.29, -1.65], [1.16, -1.46, -1.79],
  [1.179, -1.35, -1.61], [1.197, -1.52, -1.74], [1.216, -1.31, -1.67], [1.234, -1.47, -1.8], [1.253, -1.36, -1.62],
  [1.271, -1.53, -1.75], [1.29, -1.32, -1.68], [1.308, -1.48, -1.81], [1.327, -1.37, -1.63], [1.345, -1.54, -1.76],
  [1.364, -1.33, -1.69], [1.382, -1.49, -1.8], [1.401, -1.38, -1.64], [1.419, -1.55, -1.77], [1.438, -1.34, -1.7],
  [1.456, -1.5, -1.79], [1.475, -1.39, -1.65], [1.493, -1.56, -1.76], [1.512, -1.35, -1.69], [1.53, -1.51, -1.74],
  [1.549, -1.4, -1.63], [1.567, -1.53, -1.71],
];

// lower panel, e0 = 0.1
const bottomTriangles: Row[] = [
  [0.046, -1.94], [0.072, -1.25], [0.074, -1.45], [0.075, -1.55], [0.077, -1.64], [0.114, -0.63], [0.119, -0.97],
  [0.134, -1.14], [0.148, -0.59], [0.154, -1.1], [0.16, -0.6], [0.17, -0.75], [0.182, -0.44], [0.186, -0.62],
  [0.196, -0.28], [0.203, -0.22], [0.216, -0.16], [0.227, -0.05], [0.249, -0.08], [0.235, -0.75], [0.249, -0.33],
  [0.272, -0.2], [0.283, -0.28], [0.306, -0.24], [0.35, -0.12], [0.376, -0.14], [0.42, -0.05], [0.425, -0.63],
  [0.21, -0.35], [0.23, -0.45], [0.26, -0.4], [0.29, -0.45], [0.32, -0.3], [0.33, -0.5], [0.36, -0.4],
  [0.39, -0.25], [0.4, -0.5], [0.44, -0.2], [0.19, -0.5], [0.175, -0.9], [0.3, -0.15], [0.34, -0.2], [0.265, -0.6],
  [0.405, -0.15], [0.415, -0.3], [0.43, -0.1], [0.44, -0.4], [0.435, -0.55],
  [0.45, 0.0, -0.25, -0.5], [0.465, -0.1, -0.35, -0.6], [0.48, 0.05, -0.2, -0.45], [0.488, 0.2],
  [0.495, 0.36, -0.1, -0.4, -0.65], [0.51, 0.0, -0.25, -0.55], [0.525, -0.05, -0.3, -0.5], [0.532, 0.13],
  [0.54, 0.05, -0.2, -0.45, -0.7], [0.555, -0.1, -0.35, -0.6], [0.57, 0.02, -0.2, -0.5], [0.58, 0.11],
  [0.585, -0.05, -0.3, -0.55], [0.6, 0.05, -0.15, -0.4, -0.65], [0.615, -0.05, -0.3, -0.5], [0.63, 0.08, -0.2, -0.45],
  [0.645, 0.0, -0.25, -0.6], [0.66, 0.05, -0.1, -0.4], [0.675, -0.05, -0.3, -0.55], [0.685, 0.25],
  [0.69, 0.02, -0.2, -0.45, -0.7], [0.705, -0.1, -0.35, -0.6], [0.72, 0.05, -0.2, -0.5], [0.735, 0.0, -0.3, -0.55],
  [0.75, 0.25, 0.05, -0.15, -0.45], [0.765, -0.05, -0.35, -0.65], [0.78, 0.08, -0.2, -0.5], [0.795, 0.0, -0.3, -0.7],
  [0.81, 0.1, -0.15, -0.45], [0.825, -0.05, -0.35, -0.6], [0.834, 0.21, -0.84], [0.84, 0.05, -0.25, -0.5],
  [0.855, 0.0, -0.3, -0.65], [0.859, 0.4], [0.864, -0.88], [0.87, 0.1, -0.15, -0.45], [0.885, -0.05, -0.35, -0.7],
  [0.897, -0.88], [0.9, 0.08, -0.2, -0.5], [0.915, 0.0, -0.3, -0.6], [0.924, 0.19], [0.93, 0.1, -0.15, -0.45, -0.75],
  [0.945, -0.05, -0.35, -0.65], [0.96, 0.12, -0.2, -0.5], [0.975, 0.0, -0.3, -0.6], [0.99, 0.15, -0.1, -0.45, -0.8],
  [1.003, 0.28], [1.005, -0.05, -0.35, -0.65], [1.021, -0.91], [1.02, 0.1, -0.2, -0.5], [1.035, 0.0, -0.3, -0.7],
  [1.045, 0.5], [1.05, 0.15, -0.15, -0.45], [1.065, -0.05, -0.35, -0.65], [1.069, -0.91], [1.08, 0.1, -0.2, -0.55],
  [1.095, 0.2, -0.1, -0.4, -0.8], [1.11, 0.5, 0.0, -0.3, -0.6], [1.125, 0.15, -0.15, -0.5], [1.138, 0.32],
  [1.14, 0.05, -0.25, -0.7], [1.155, 0.2, -0.1, -0.45, -0.85], [1.169, 0.5], [1.17, 0.0, -0.3, -0.6], [1.183, -1.08],
  [1.185, 0.15, -0.2, -0.5], [1.2, 0.25, -0.05, -0.4, -0.75], [1.214, 0.45], [1.215, 0.1, -0.3, -0.6],
  [1.23, 0.2, -0.1, -0.45, -0.9], [1.235, 0.45], [1.245, 0.05, -0.25, -0.65], [1.26, 0.3, -0.05, -0.4], [1.271, 0.36],
  [1.275, 0.15, -0.2, -0.55, -0.95], [1.292, 0.47], [1.29, 0.0, -0.3, -0.7], [1.305, 0.25, -0.1, -0.45],
  [1.32, 0.1, -0.25, -0.6, -0.9], [1.34, 0.66, 0.3, -0.05, -0.4], [1.355, 0.15, -0.2, -0.7], [1.37, 0.35, 0.0, -0.35, -0.91],
  [1.385, 0.1, -0.25, -0.6], [1.396, 0.55], [1.4, 0.3, -0.05, -0.45, -0.85], [1.415, 0.15, -0.3, -0.7], [1.42, 0.75],
  [1.43, 0.35, 0.0, -0.4, -0.95], [1.446, 0.88], [1.445, 0.2, -0.15, -0.55], [1.455, -1.11, -0.8],
  [1.46, 0.4, 0.05, -0.3, -0.65], [1.47, 0.7], [1.475, 0.15, -0.2, -0.5, -0.9], [1.49, 0.3, -0.05, -0.45],
  [1.505, 0.1, -0.3, -0.7, -0.95], [1.512, 0.82], [1.52, 0.35, 0.0, -0.4], [1.53, 0.75], [1.535, 0.2, -0.15, -0.6, -0.85],
  [1.539, 0.58], [1.55, 0.4, 0.05, -0.3, -0.7], [1.56, 0.15, -0.25, -0.55, -0.9], [1.57, 0.36, 0.1, -0.1, -0.45, -0.75],
  [1.572, -0.88],
  [0.452, 0.02, -0.3, -0.55], [0.461, -0.12, -0.42], [0.47, 0.08, -0.2, -0.5], [0.479, -0.05, -0.35, -0.62],
  [0.497, 0.0, -0.28, -0.55], [0.506, -0.15, -0.45], [0.515, 0.05, -0.22, -0.6], [0.524, -0.08, -0.38],
  [0.533, -0.02, -0.3, -0.66], [0.542, -0.15, -0.48], [0.551, 0.06, -0.25, -0.58], [0.56, -0.05, -0.38],
  [0.569, 0.1, -0.18, -0.5], [0.578, -0.08, -0.4, -0.7], [0.587, -0.22, -0.55], [0.596, 0.05, -0.12, -0.42],
  [0.605, -0.02, -0.3, -0.64], [0.614, 0.08, -0.2, -0.5], [0.623, -0.08, -0.36], [0.632, 0.06, -0.15, -0.55],
  [0.641, -0.02, -0.3, -0.62], [0.65, 0.08, -0.18, -0.45], [0.659, -0.06, -0.35], [0.668, 0.05, -0.22, -0.58],
  [0.677, -0.05, -0.3], [0.686, 0.02, -0.15, -0.5], [0.695, -0.08, -0.38, -0.68], [0.704, 0.06, -0.2, -0.52],
  [0.713, -0.02, -0.3], [0.722, 0.08, -0.15, -0.6], [0.731, -0.05, -0.35], [0.74, 0.05, -0.22, -0.55],
  [0.749, -0.05, -0.4, -0.7], [0.758, 0.06, -0.18], [0.767, -0.08, -0.45], [0.776, 0.08, -0.25, -0.62],
  [0.785, -0.02, -0.35], [0.794, 0.1, -0.15, -0.55], [0.803, -0.05, -0.4, -0.72], [0.812, 0.06, -0.22],
  [0.821, -0.02, -0.48], [0.83, 0.05, -0.3], [0.839, -0.08, -0.58], [0.848, 0.1, -0.2, -0.45], [0.857, -0.02, -0.68],
  [0.866, 0.06, -0.32], [0.875, -0.1, -0.55], [0.884, 0.12, -0.22], [0.893, 0.0, -0.42], [0.902, 0.08, -0.15, -0.62],
  [0.911, -0.05, -0.35], [0.92, 0.0, -0.5], [0.929, 0.1, -0.25, -0.75], [0.938, -0.05, -0.42], [0.947, 0.12, -0.18, -0.6],
  [0.956, 0.02, -0.35], [0.965, 0.14, -0.12, -0.52], [0.974, 0.0, -0.3, -0.7], [0.983, 0.15, -0.2], [0.992, 0.05, -0.45, -0.82],
  [1.001, -0.08, -0.35], [1.01, 0.1, -0.25, -0.62], [1.019, -0.02, -0.5], [1.028, 0.12, -0.18], [1.037, 0.02, -0.38, -0.72],
  [1.046, 0.15, -0.12], [1.055, 0.05, -0.3, -0.58], [1.064, 0.1, -0.45], [1.073, -0.05, -0.22], [1.082, 0.15, -0.35, -0.7],
  [1.091, 0.2, -0.1, -0.55], [1.1, 0.05, -0.28, -0.82], [1.109, 0.12, -0.42], [1.118, -0.05, -0.62], [1.127, 0.18, -0.2],
  [1.136, 0.05, -0.5], [1.145, -0.1, -0.35, -0.75], [1.154, 0.22, -0.2, -0.6], [1.163, 0.08, -0.45, -0.88], [1.172, -0.05],
  [1.181, 0.15, -0.3], [1.19, 0.25, -0.15, -0.62], [1.199, 0.02, -0.45], [1.208, 0.3, -0.1, -0.8], [1.217, 0.1, -0.35],
  [1.226, 0.18, -0.22, -0.65], [1.235, 0.0, -0.5], [1.244, 0.25, -0.15, -0.9], [1.253, 0.08, -0.38], [1.262, 0.3, -0.05, -0.7],
  [1.271, 0.12, -0.28], [1.28, 0.2, -0.45, -0.95], [1.289, 0.0, -0.2], [1.298, 0.25, -0.35, -0.62], [1.307, 0.1, -0.12],
  [1.316, 0.3, -0.5, -0.85], [1.325, 0.15, -0.25], [1.334, 0.4, 0.0, -0.65], [1.343, 0.2, -0.4], [1.352, 0.08, -0.15, -0.78],
  [1.361, 0.3, -0.3], [1.37, 0.05, -0.55], [1.379, 0.15, -0.2], [1.388, 0.28, -0.42, -0.72], [1.397, 0.1],
  [1.406, 0.35, -0.1, -0.6], [1.415, 0.18, -0.35, -0.85], [1.424, 0.3], [1.433, 0.05, -0.2, -0.95], [1.442, 0.4, -0.5],
  [1.451, 0.2, -0.1, -0.75], [1.46, 0.35, -0.3, -0.98], [1.469, 0.1], [1.478, 0.25, -0.2, -0.6], [1.487, 0.4, -0.05, -0.88],
  [1.496, 0.12, -0.35], [1.505, 0.3, -0.15, -0.72], [1.514, 0.05], [1.523, 0.35, -0.25, -0.95], [1.532, 0.15, -0.5],
  [1.541, -0.05, -0.8], [1.55, 0.3, -0.35], [1.559, 0.1, -0.2, -0.65], [1.566, -0.05, -0.45, -0.88], [1.571, 0.2, -0.3, -0.75],
  [0.458, -0.08, -0.33], [0.477, 0.03, -0.26], [0.495, -0.14, -0.41], [0.514, -0.02, -0.19], [0.532, 0.07, -0.34],
  [0.551, -0.11, -0.27], [0.569, 0.04, -0.38], [0.588, -0.06, -0.22], [0.606, 0.09, -0.31], [0.625, -0.03, -0.43],
  [0.643, -0.12, -0.24], [0.662, 0.06, -0.36], [0.68, -0.07, -0.18], [0.699, 0.04, -0.29], [0.717, -0.1, -0.41],
  [0.736, 0.08, -0.23], [0.754, -0.04, -0.33], [0.773, -0.13, -0.46], [0.791, 0.05, -0.27], [0.81, -0.06, -0.38],
  [0.828, 0.09, -0.21], [0.847, -0.1, -0.44], [0.865, 0.03, -0.26], [0.884, -0.05, -0.37], [0.902, 0.1, -0.18],
  [0.921, -0.08, -0.42], [0.939, 0.05, -0.29], [0.958, -0.03, -0.48], [0.976, 0.11, -0.22], [0.995, -0.07, -0.39],
  [1.013, 0.06, -0.31], [1.032, 0.14, -0.47], [1.05, -0.02, -0.25], [1.069, 0.08, -0.41], [1.087, 0.17, -0.2],
  [1.106, 0.02, -0.52], [1.124, 0.11, -0.33], [1.143, 0.21, -0.15], [1.161, -0.01, -0.44], [1.18, 0.13, -0.28],
  [1.198, 0.2, -0.55], [1.217, 0.04, -0.36], [1.235, 0.16, -0.19], [1.254, 0.24, -0.47], [1.272, 0.07, -0.31],
  [1.291, 0.18, -0.58], [1.309, 0.28, -0.12], [1.328, 0.09, -0.42], [1.346, 0.22, -0.26], [1.365, 0.3, -0.61],
  [1.383, 0.05, -0.34], [1.402, 0.19, -0.17], [1.42, 0.27, -0.52], [1.439, 0.1, -0.29], [1.457, 0.23, -0.66],
  [1.476, 0.33, -0.11], [1.494, 0.07, -0.45], [1.513, 0.21, -0.24], [1.531, 0.29, -0.57], [1.55, 0.12, -0.38],
  [1.566, 0.25, -0.15],
  [0.467, -0.18], [0.486, 0.06], [0.504, -0.24], [0.523, -0.09], [0.541, 0.02], [0.56, -0.21], [0.578, -0.04],
  [0.597, 0.07], [0.615, -0.16], [0.634, -0.27], [0.652, 0.03], [0.671, -0.12], [0.689, -0.23], [0.708, 0.05],
  [0.726, -0.08], [0.745, -0.2], [0.763, 0.1], [0.782, -0.14], [0.8, -0.03], [0.819, -0.25], [0.837, 0.06],
  [0.856, -0.11], [0.874, -0.22], [0.893, 0.09], [0.911, -0.06], [0.93, -0.19], [0.948, 0.13], [0.967, -0.09],
  [0.985, -0.28], [1.004, 0.08], [1.022, -0.13], [1.041, 0.16], [1.059, -0.24], [1.078, 0.02], [1.096, -0.1],
  [1.115, 0.22], [1.133, -0.18], [1.152, 0.06], [1.17, -0.31], [1.189, 0.17], [1.207, -0.04], [1.226, 0.26],
  [1.244, -0.21], [1.263, 0.11], [1.281, -0.1], [1.3, 0.29], [1.318, -0.27], [1.337, 0.14], [1.355, -0.02],
  [1.374, 0.24], [1.392, -0.19], [1.411, 0.08], [1.429, -0.35], [1.448, 0.2], [1.466, -0.07], [1.485, 0.31],
  [1.503, -0.24], [1.522, 0.13], [1.54, -0.12], [1.559, 0.23],
];

// lower panel, e0 = 0.4
const bottomPluses: Row[] = [
  [0.045, -2.56], [0.072, -1.9], [0.074, -2.12], [0.075, -2.25], [0.07, -2.08], [0.111, -1.28], [0.117, -1.57],
  [0.131, -1.74], [0.151, -1.67], [0.145, -1.18], [0.165, -1.3], [0.17, -1.45], [0.18, -1.32], [0.19, -1.27],
  [0.196, -1.1], [0.21, -1.1], [0.238, -1.22], [0.204, -0.79], [0.216, -0.71], [0.227, -0.47], [0.247, -0.51],
  [0.266, -1.12], [0.263, -0.97], [0.28, -0.88], [0.306, -0.86], [0.318, -0.94], [0.349, -1.1], [0.352, -0.55],
  [0.368, -0.16], [0.385, -0.3], [0.408, -0.83], [0.42, -0.92], [0.444, -0.94], [0.155, -1.2], [0.225, -1.15],
  [0.25, -0.9], [0.29, -0.75], [0.3, -0.95], [0.33, -0.8], [0.34, -0.6], [0.37, -0.75], [0.39, -0.6], [0.4, -0.45],
  [0.43, -0.7], [0.26, -0.7], [0.23, -0.9], [0.2, -0.95], [0.32, -0.55], [0.44, -0.5],
  [0.405, -0.6], [0.415, -0.45], [0.425, -0.75], [0.435, -0.35], [0.445, -0.65], [0.41, -0.85],
  [0.455, -0.3, -0.55, -0.8], [0.47, -0.15, -0.45, -0.7], [0.485, -0.35, -0.6, -0.85], [0.5, -0.2, -0.45, -0.7],
  [0.515, -0.3, -0.55, -0.8], [0.53, -0.1, -0.4, -0.65], [0.545, -0.25, -0.5, -0.75], [0.56, -0.35, -0.6, -0.85],
  [0.575, -0.2, -0.45, -0.7], [0.59, -0.3, -0.55, -0.8], [0.605, -0.15, -0.4, -0.65], [0.62, -0.25, -0.5, -0.75],
  [0.635, -0.35, -0.6, -0.85], [0.65, -0.2, -0.45, -0.7], [0.665, -0.3, -0.55, -0.78], [0.68, -0.15, -0.4, -0.65],
  [0.695, -0.25, -0.5, -0.75], [0.71, -0.35, -0.6, -0.82], [0.725, -0.2, -0.45, -0.7], [0.74, -0.3, -0.55, -0.8],
  [0.755, -0.15, -0.4, -0.65], [0.77, -0.25, -0.5, -0.75], [0.78, -0.78], [0.785, -0.35, -0.6, -0.85],
  [0.8, -0.2, -0.45, -0.7], [0.815, -0.3, -0.55, -0.8], [0.83, -0.1, -0.4, -0.65], [0.845, -0.25, -0.5, -0.75],
  [0.86, -0.35, -0.6, -0.85], [0.875, -0.15, -0.45, -0.7], [0.89, -0.3, -0.55, -0.8], [0.905, -0.2, -0.4, -0.65],
  [0.92, -0.35, -0.6, -0.88], [0.935, -0.1, -0.45, -0.7], [0.945, 0.32], [0.95, -0.25, -0.55, -0.8],
  [0.965, -0.35, -0.6, -0.9], [0.979, -0.95], [0.98, -0.15, -0.4, -0.7], [0.995, -0.3, -0.55, -0.8],
  [1.01, -0.05, -0.45, -0.75], [1.025, -0.25, -0.5, -0.85], [1.039, 0.37], [1.04, -0.35, -0.6, -0.9],
  [1.055, -0.1, -0.4, -0.7], [1.07, -0.25, -0.55, -0.8], [1.085, 0.1, -0.3, -0.65], [1.1, -0.15, -0.45, -0.75, -0.95],
  [1.115, 0.05, -0.3, -0.6], [1.13, -0.2, -0.5, -0.85], [1.141, -1.04], [1.145, 0.15, -0.1, -0.4, -0.7],
  [1.16, -0.25, -0.55, -0.9], [1.166, 0.43], [1.175, 0.05, -0.3, -0.65], [1.19, 0.2, -0.15, -0.45, -0.8],
  [1.205, -0.05, -0.35, -0.7], [1.22, 0.1, -0.25, -0.55, -0.95], [1.23, 0.6, -0.95], [1.235, 0.25, -0.1, -0.45],
  [1.25, 0.0, -0.35, -0.75], [1.265, 0.15, -0.2, -0.55, -0.9], [1.28, 0.3, -0.05, -0.4], [1.289, 0.63],
  [1.295, 0.1, -0.3, -0.7], [1.307, -1.01], [1.31, 0.2, -0.15, -0.5, -0.85], [1.325, 0.0, -0.35, -0.65], [1.328, -1.04],
  [1.34, 0.55, 0.25, -0.1, -0.45, -0.9], [1.355, 0.1, -0.25, -0.6], [1.37, 0.3, -0.05, -0.4, -0.8],
  [1.385, 0.15, -0.3, -0.65], [1.391, -1.01], [1.4, 0.35, 0.0, -0.45, -0.9], [1.416, -1.01], [1.415, 0.2, -0.15, -0.55],
  [1.42, 0.58], [1.43, 0.05, -0.35, -0.75], [1.44, 0.68], [1.445, 0.3, -0.1, -0.5, -0.85], [1.46, 0.15, -0.25, -0.65],
  [1.475, 0.45, 0.0, -0.4, -0.9], [1.49, 0.2, -0.15, -0.55], [1.505, 0.05, -0.3, -0.7, -0.95], [1.515, 0.71],
  [1.52, 0.3, -0.05, -0.45], [1.528, -1.04], [1.535, 0.15, -0.25, -0.65, -0.9], [1.55, 0.35, 0.0, -0.4, -0.8],
  [1.56, 0.1, -0.2, -0.55], [1.567, -1.03], [1.57, 0.3, 0.05, -0.35, -0.7, -0.9],
  [0.456, -0.25, -0.5, -0.78], [0.465, -0.38, -0.65], [0.474, -0.2, -0.55, -0.82], [0.483, -0.3, -0.6],
  [0.492, -0.12, -0.42, -0.72], [0.501, -0.28, -0.58, -0.85], [0.51, -0.18, -0.48], [0.519, -0.35, -0.68],
  [0.528, -0.22, -0.52, -0.8], [0.537, -0.05, -0.4, -0.65], [0.546, -0.3, -0.58], [0.555, -0.15, -0.45, -0.78],
  [0.564, -0.25, -0.62], [0.573, -0.1, -0.4, -0.7], [0.582, -0.32, -0.55], [0.591, -0.2, -0.48, -0.82],
  [0.6, -0.08, -0.35, -0.62], [0.609, -0.25, -0.55], [0.618, -0.15, -0.45, -0.75], [0.627, -0.3, -0.6],
  [0.636, -0.1, -0.4, -0.7], [0.645, -0.22, -0.52], [0.654, -0.35, -0.65], [0.663, -0.12, -0.42, -0.8],
  [0.672, -0.28, -0.58], [0.681, -0.18, -0.48, -0.72], [0.69, -0.05, -0.35, -0.62], [0.699, -0.25, -0.55],
  [0.708, -0.15, -0.45, -0.78], [0.717, -0.3, -0.6], [0.726, -0.1, -0.4, -0.68], [0.735, -0.22, -0.52],
  [0.744, -0.35, -0.65], [0.753, -0.12, -0.42, -0.75], [0.762, -0.28, -0.58], [0.771, -0.18, -0.48, -0.7],
  [0.78, -0.05, -0.35, -0.62], [0.789, -0.25, -0.55], [0.798, -0.15, -0.45, -0.78], [0.807, -0.3, -0.6],
  [0.816, -0.1, -0.4, -0.72], [0.825, -0.22, -0.52, -0.85], [0.834, -0.35, -0.65], [0.843, -0.12, -0.42, -0.75],
  [0.852, -0.28, -0.58], [0.861, -0.05, -0.48, -0.8], [0.87, -0.2, -0.35, -0.65], [0.879, -0.25, -0.55, -0.88],
  [0.888, -0.1, -0.45, -0.72], [0.897, -0.3, -0.6], [0.906, -0.15, -0.4, -0.78], [0.915, -0.22, -0.52, -0.9],
  [0.924, -0.05, -0.35, -0.65], [0.933, -0.28, -0.58], [0.942, -0.12, -0.48, -0.8], [0.951, 0.05, -0.2, -0.62],
  [0.96, -0.35, -0.72], [0.969, -0.1, -0.45, -0.92], [0.978, -0.25, -0.55], [0.987, 0.0, -0.38, -0.7],
  [0.996, -0.2, -0.6, -0.85], [1.005, -0.08, -0.42], [1.014, -0.3, -0.68], [1.023, 0.05, -0.18, -0.55, -0.9],
  [1.032, -0.35, -0.75], [1.041, -0.1, -0.48], [1.05, 0.1, -0.25, -0.62], [1.059, -0.05, -0.42, -0.85],
  [1.068, -0.2, -0.58], [1.077, 0.12, -0.32, -0.72], [1.086, -0.08, -0.5, -0.92], [1.095, 0.0, -0.25, -0.62],
  [1.104, 0.2, -0.4, -0.8], [1.113, -0.12, -0.55], [1.122, 0.1, -0.3, -0.72], [1.131, 0.25, -0.05, -0.45, -0.95],
  [1.14, -0.2, -0.62], [1.149, 0.05, -0.35, -0.8], [1.158, 0.3, -0.12, -0.52], [1.167, 0.0, -0.4, -0.88],
  [1.176, 0.15, -0.25, -0.65], [1.185, -0.08, -0.5, -1.0], [1.194, 0.28, -0.2, -0.72], [1.203, 0.05, -0.4, -0.92],
  [1.212, 0.4, -0.12, -0.58], [1.221, 0.12, -0.3, -0.8], [1.23, 0.5, -0.05, -0.5, -1.0], [1.239, 0.2, -0.22, -0.68],
  [1.248, 0.0, -0.42, -0.88], [1.257, 0.3, -0.15, -0.6], [1.266, 0.1, -0.35, -0.95], [1.275, 0.45, -0.05, -0.52],
  [1.284, 0.2, -0.25, -0.75], [1.293, 0.63, 0.0, -0.45, -1.0], [1.302, 0.3, -0.18, -0.62], [1.311, 0.08, -0.38, -0.88],
  [1.32, 0.4, -0.1, -0.55], [1.329, 0.15, -0.3, -1.02], [1.338, 0.55, -0.05, -0.7], [1.347, 0.25, -0.22, -0.88],
  [1.356, 0.05, -0.45], [1.365, 0.38, -0.12, -0.65], [1.374, 0.15, -0.35, -0.95], [1.383, 0.45, -0.02, -0.55],
  [1.392, 0.22, -0.25, -1.01], [1.401, 0.05, -0.45, -0.8], [1.41, 0.35, -0.1, -0.62], [1.419, 0.58, 0.15, -0.35],
  [1.428, 0.25, -0.2, -0.9], [1.437, 0.68, 0.05, -0.5], [1.446, 0.4, -0.12, -0.75], [1.455, 0.2, -0.3, -1.02],
  [1.464, 0.5, 0.0, -0.6], [1.473, 0.28, -0.22, -0.85], [1.482, 0.1, -0.42], [1.491, 0.38, -0.08, -0.68],
  [1.5, 0.18, -0.3, -0.95], [1.509, 0.6, 0.02, -0.52], [1.518, 0.71, 0.25, -0.2], [1.527, 0.1, -0.4, -1.04],
  [1.536, 0.35, -0.12, -0.75], [1.545, 0.15, -0.3, -0.9], [1.554, 0.45, -0.05, -0.6], [1.563, 0.25, -0.25, -1.0],
  [1.569, 0.3, 0.0, -0.45, -0.8],
  [0.463, -0.41, -0.66], [0.482, -0.29, -0.73], [0.5, -0.52, -0.61], [0.519, -0.36, -0.79], [0.537, -0.47, -0.58],
  [0.556, -0.31, -0.71], [0.574, -0.55, -0.64], [0.593, -0.39, -0.77], [0.611, -0.27, -0.53], [0.63, -0.44, -0.69],
  [0.648, -0.33, -0.81], [0.667, -0.5, -0.62], [0.685, -0.37, -0.74], [0.704, -0.28, -0.57], [0.722, -0.46, -0.79],
  [0.741, -0.35, -0.63], [0.759, -0.53, -0.72], [0.778, -0.31, -0.58], [0.796, -0.43, -0.8], [0.815, -0.26, -0.66],
  [0.833, -0.49, -0.59], [0.852, -0.38, -0.83], [0.87, -0.29, -0.61], [0.889, -0.52, -0.73], [0.907, -0.36, -0.68],
  [0.926, -0.45, -0.86], [0.944, -0.27, -0.57], [0.963, -0.5, -0.76], [0.981, -0.34, -0.64], [1.0, -0.21, -0.83],
  [1.018, -0.43, -0.6], [1.037, -0.3, -0.77], [1.055, -0.15, -0.52], [1.074, -0.4, -0.88], [1.092, -0.24, -0.63],
  [1.111, -0.08, -0.5], [1.129, -0.33, -0.79], [1.148, -0.19, -0.62], [1.166, -0.42, -0.91], [1.185, -0.05, -0.3],
  [1.203, -0.23, -0.71], [1.222, -0.37, -0.55], [1.24, 0.04, -0.44], [1.259, -0.28, -0.82], [1.277, -0.12, -0.6],
  [1.296, -0.39, -0.93], [1.314, 0.08, -0.26], [1.333, -0.18, -0.69], [1.351, -0.33, -0.52], [1.37, 0.02, -0.85],
  [1.388, -0.22, -0.47], [1.407, -0.09, -0.73], [1.425, -0.36, -0.58], [1.444, 0.12, -0.92], [1.462, -0.15, -0.4],
  [1.481, -0.3, -0.77], [1.499, 0.06, -0.55], [1.518, -0.2, -0.86], [1.536, -0.41, -0.63], [1.555, -0.04, -0.71],
  [1.567, -0.26, -0.5],
  [0.472, -0.52], [0.491, -0.36], [0.509, -0.63], [0.528, -0.44], [0.546, -0.71], [0.565, -0.39], [0.583, -0.58],
  [0.602, -0.47], [0.62, -0.66], [0.639, -0.34], [0.657, -0.55], [0.676, -0.73], [0.694, -0.42], [0.713, -0.61],
  [0.731, -0.37], [0.75, -0.52], [0.768, -0.68], [0.787, -0.45], [0.805, -0.57], [0.824, -0.38], [0.842, -0.64],
  [0.861, -0.49], [0.879, -0.72], [0.898, -0.41], [0.916, -0.58], [0.935, -0.35], [0.953, -0.69], [0.972, -0.47],
  [0.99, -0.6], [1.009, -0.32], [1.027, -0.66], [1.046, -0.43], [1.064, -0.55], [1.083, -0.27], [1.101, -0.71],
  [1.12, -0.4], [1.138, -0.58], [1.157, -0.24], [1.175, -0.76], [1.194, -0.45], [1.212, -0.33], [1.231, -0.62],
  [1.249, -0.18], [1.268, -0.5], [1.286, -0.7], [1.305, -0.29], [1.323, -0.57], [1.342, -0.41], [1.36, -0.79],
  [1.379, -0.23], [1.397, -0.6], [1.416, -0.46], [1.434, -0.14], [1.453, -0.67], [1.471, -0.36], [1.49, -0.53],
  [1.508, -0.21], [1.527, -0.73], [1.545, -0.44], [1.564, -0.31],
];

const toPoints = (rows: Row[]) => rows.flatMap(([x, ...ys]) => ys.map((y) => ({ x, y })));

const GREEN = '#008000';
const RED = '#ff0000';
const BLUE = '#0000ff';
const FONT = 'DejaVu Sans, sans-serif';
const LW = 3.3;

const CircleMark = (p: any) => <circle cx={p.cx} cy={p.cy} r={16} fill={GREEN} />;

const TriangleMark = (p: any) => {
  const { cx, cy } = p;
  const h = 14.5;
  return (
    <path
      d={`M${cx - h},${cy - h}L${cx + h},${cy - h}L${cx},${cy + h}Z`}
      fill={RED}
      fillOpacity={0.5}
      stroke={RED}
      strokeOpacity={0.5}
      strokeWidth={3.5}
    />
  );
};

const PlusMark = (p: any) => {
  const { cx, cy } = p;
  const h = 15;
  return (
    <path
      d={`M${cx - h},${cy}H${cx + h}M${cx},${cy - h}V${cy + h}`}
      fill="none"
      stroke={BLUE}
      strokeOpacity={0.5}
      strokeWidth={7}
    />
  );
};

const minus = (v: number) => String(v).replace('-', '\u2212');
const tickStyle = { fill: '#000', fontSize: 40, fontFamily: FONT };

const LegendBox = () => {
  const rows = [
    { mark: <circle cx={83} cy={54} r={16} fill={GREEN} />, base: 70 },
    { mark: <TriangleMark cx={83} cy={141} />, base: 157 },
    { mark: <PlusMark cx={83} cy={228} />, base: 244 },
  ];
  return (
    <svg width={436} height={277} style={{ display: 'block' }}>
      <rect x={1.6} y={1.6} width={432.8} height={273.8} rx={12} fill="#fff" fillOpacity={0.8} stroke="#cccccc" strokeWidth={LW} />
      {rows.map((r, i) => (
        <g key={seriesNames[i]}>
          {r.mark}
          <text y={r.base} fontSize={60} fontFamily={FONT} fill="#000">
            <tspan x={186} fontStyle="italic">e</tspan>
            <tspan x={223} dy={8} fontSize={42}>0</tspan>
            <tspan x={261} dy={-8}>=</tspan>
            <tspan x={321}>{legendValues[i]}</tspan>
          </text>
        </g>
      ))}
    </svg>
  );
};

export default function App() {
  return (
    <div style={{ position: 'absolute', left: 0, top: 0, width: 2100, height: 2100, background: '#fff', fontFamily: FONT }}>
      <div style={{ position: 'absolute', left: 0, top: 0 }}>
        <ScatterChart width={2100} height={1400} margin={{ top: 252, right: 212, bottom: 39, left: 144 }}>
          <XAxis
            type="number"
            dataKey="x"
            domain={[0, 1.6]}
            ticks={xTicks}
            height={30}
            stroke="#000"
            axisLine={{ stroke: '#000', strokeWidth: LW }}
            tickLine={{ stroke: '#000', strokeWidth: LW }}
            tickSize={14.6}
            tick={() => <g />}
            allowDataOverflow
          />
          <YAxis
            type="number"
            dataKey="y"
            domain={[-3, 2]}
            ticks={topYTicks}
            width={120}
            stroke="#000"
            axisLine={{ stroke: '#000', strokeWidth: LW }}
            tickLine={{ stroke: '#000', strokeWidth: LW }}
            tickSize={14.6}
            tickMargin={18}
            tick={tickStyle}
            tickFormatter={minus}
            allowDataOverflow
          />
          <Scatter name={seriesNames[0]} data={toPoints(topCircles)} shape={CircleMark} isAnimationActive={false} />
          <Scatter name={seriesNames[1]} data={toPoints(topTriangles)} shape={TriangleMark} isAnimationActive={false} />
          <Scatter name={seriesNames[2]} data={toPoints(topPluses)} shape={PlusMark} isAnimationActive={false} />
          <ReferenceArea x1={0} x2={1.6} y1={-3} y2={2} fill="none" stroke="#000" strokeWidth={LW} ifOverflow="visible" />
          <Legend
            layout="horizontal"
            verticalAlign="middle"
            align="center"
            content={() => <LegendBox />}
            wrapperStyle={{ left: 1423, top: 281, width: 436, height: 277 }}
          />
        </ScatterChart>
      </div>
      <div style={{ position: 'absolute', left: 0, top: 1350 }}>
        <ScatterChart width={2100} height={750} margin={{ top: 56, right: 212, bottom: 163, left: 144 }}>
          <XAxis
            type="number"
            dataKey="x"
            domain={[0, 1.6]}
            ticks={xTicks}
            height={100}
            stroke="#000"
            axisLine={{ stroke: '#000', strokeWidth: LW }}
            tickLine={{ stroke: '#000', strokeWidth: LW }}
            tickSize={14.6}
            tickMargin={16}
            tick={tickStyle}
            tickFormatter={(v: number) => v.toFixed(1)}
            allowDataOverflow
          />
          <YAxis
            type="number"
            dataKey="y"
            domain={[-3, 1]}
            ticks={bottomYTicks}
            width={120}
            stroke="#000"
            axisLine={{ stroke: '#000', strokeWidth: LW }}
            tickLine={{ stroke: '#000', strokeWidth: LW }}
            tickSize={14.6}
            tickMargin={18}
            tick={tickStyle}
            tickFormatter={minus}
            allowDataOverflow
          />
          <Scatter name={seriesNames[1]} data={toPoints(bottomTriangles)} shape={TriangleMark} isAnimationActive={false} />
          <Scatter name={seriesNames[2]} data={toPoints(bottomPluses)} shape={PlusMark} isAnimationActive={false} />
          <ReferenceArea x1={0} x2={1.6} y1={-3} y2={1} fill="none" stroke="#000" strokeWidth={LW} ifOverflow="visible" />
        </ScatterChart>
      </div>
      <svg width={2100} height={2100} style={{ position: 'absolute', left: 0, top: 0, pointerEvents: 'none' }}>
        <text transform="translate(140,788) rotate(-90)" textAnchor="middle" fontSize={58} fontFamily={FONT} fill="#000">
          log<tspan fontSize={40.6} dy={8}>10</tspan>
          <tspan dy={-8}>(Δ</tspan>
          <tspan fontStyle="italic">d</tspan>
          <tspan fontSize={40.6} fontStyle="italic" dy={8}>L</tspan>
          <tspan dy={-8}>/</tspan>
          <tspan fontStyle="italic">d</tspan>
          <tspan fontSize={40.6} fontStyle="italic" dy={8}>L</tspan>
          <tspan dy={-8}>)</tspan>
        </text>
        <text transform="translate(135,1620) rotate(-90)" textAnchor="middle" fontSize={58} fontFamily={FONT} fill="#000">
          log<tspan fontSize={40.6} dy={8}>10</tspan>
          <tspan dy={-8}>(</tspan>
          <tspan fontStyle="italic">R</tspan>
          <tspan fontSize={40.6} fontStyle="italic" dy={9}>d</tspan>
          <tspan fontSize={28.4} fontStyle="italic" dy={6}>L</tspan>
          <tspan dy={-15}>)</tspan>
        </text>
        <text x={1076} y={1971} textAnchor="middle" fontSize={58} fontFamily={FONT} fill="#000">
          inclination angle <tspan fontStyle="italic">ι</tspan>
        </text>
      </svg>
    </div>
  );
}
